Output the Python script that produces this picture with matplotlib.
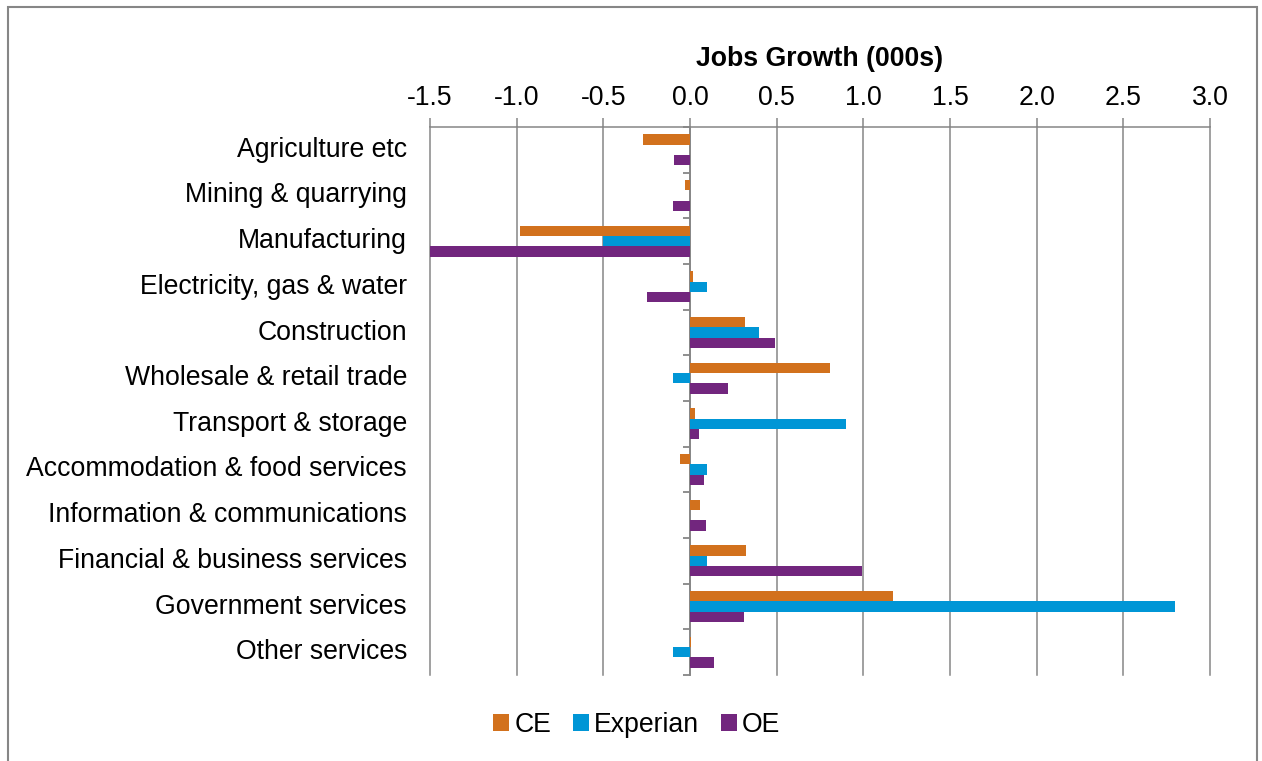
import matplotlib
matplotlib.use("Agg")
import matplotlib.pyplot as plt
import matplotlib.transforms as mtransforms
from matplotlib.patches import Rectangle
import numpy as np

plt.rcParams["font.family"] = ["Liberation Sans", "DejaVu Sans"]

# sectors, top to bottom
sectors = [
    "Agriculture etc",
    "Mining & quarrying",
    "Manufacturing",
    "Electricity, gas & water",
    "Construction",
    "Wholesale & retail trade",
    "Transport & storage",
    "Accommodation & food services",
    "Information & communications",
    "Financial & business services",
    "Government services",
    "Other services",
]
# jobs growth (000s) by forecaster
ce = [-0.27, -0.03, -0.98, 0.015, 0.32, 0.81, 0.03, -0.055, 0.057, 0.325, 1.17, 0.005]
experian = [0.0, 0.0, -0.50, 0.10, 0.40, -0.10, 0.90, 0.10, 0.0, 0.10, 2.80, -0.10]
oe = [-0.09, -0.10, -1.50, -0.25, 0.49, 0.22, 0.054, 0.08, 0.095, 0.99, 0.31, 0.14]
xticks = [-1.5, -1.0, -0.5, 0.0, 0.5, 1.0, 1.5, 2.0, 2.5, 3.0]

colors = {"CE": "#D2711D", "Experian": "#0096D6", "OE": "#72267E"}
grey = "#868686"
fs = 19.2

fig = plt.figure(figsize=(12.62, 7.61), dpi=100)
ax = fig.add_axes([430 / 1262, 1 - 675 / 761, 780 / 1262, 548 / 761])

y = np.arange(len(sectors))
h = 0.225
ax.barh(y - h, ce, height=h, color=colors["CE"], label="CE", zorder=3)
ax.barh(y, experian, height=h, color=colors["Experian"], label="Experian", zorder=3)
ax.barh(y + h, oe, height=h, color=colors["OE"], label="OE", zorder=3)

ax.set_xlim(-1.5, 3.0)
ax.set_ylim(len(sectors) - 0.5, -0.5)

# x axis on top
ax.xaxis.tick_top()
ax.set_xticks(xticks)
ax.set_xticklabels([f"{v:.1f}" for v in xticks], fontsize=fs)
ax.tick_params(axis="x", length=6.5, width=1.1, color=grey, pad=5)
ax.grid(axis="x", color=grey, linewidth=1.1, zorder=0)
for gl in ax.get_xgridlines():
    gl.set_clip_on(False)

# category axis sits at zero, labels stay on the left
ax.spines["left"].set_position(("data", 0))
ax.spines["left"].set_color(grey)
ax.spines["left"].set_linewidth(1.3)
ax.spines["top"].set_color(grey)
ax.spines["top"].set_linewidth(1.1)
ax.spines["right"].set_visible(False)
ax.spines["bottom"].set_visible(False)
ax.set_yticks(y)
ax.set_yticklabels([])
ax.set_yticks(np.arange(len(sectors) + 1) - 0.5, minor=True)
ax.tick_params(axis="y", which="major", length=0)
ax.tick_params(axis="y", which="minor", length=5, width=1.3, color=grey)

lab_tr = mtransforms.offset_copy(ax.get_yaxis_transform(), fig=fig, x=-23, y=0, units="dots")
for yi, name in zip(y, sectors):
    ax.text(0, yi, name, transform=lab_tr, ha="right", va="center", fontsize=fs)

fig.text(0.5 * (430 + 1210) / 1262, 1 - 59 / 761, "Jobs Growth (000s)",
         ha="center", va="center", fontsize=fs, fontweight="bold")

fig.legend(loc="center", bbox_to_anchor=(637 / 1262, 1 - 725 / 761), ncol=3,
           frameon=False, fontsize=fs, handlelength=0.6, handleheight=0.6,
           handletextpad=0.2, columnspacing=0.8)

# chart border
fig.patches.append(Rectangle((8 / 1262, -0.02), 1249 / 1262, 1.02 - 7 / 761,
                             transform=fig.transFigure, fill=False,
                             edgecolor=grey, linewidth=1.5))

fig.savefig("out.png", dpi=100)
